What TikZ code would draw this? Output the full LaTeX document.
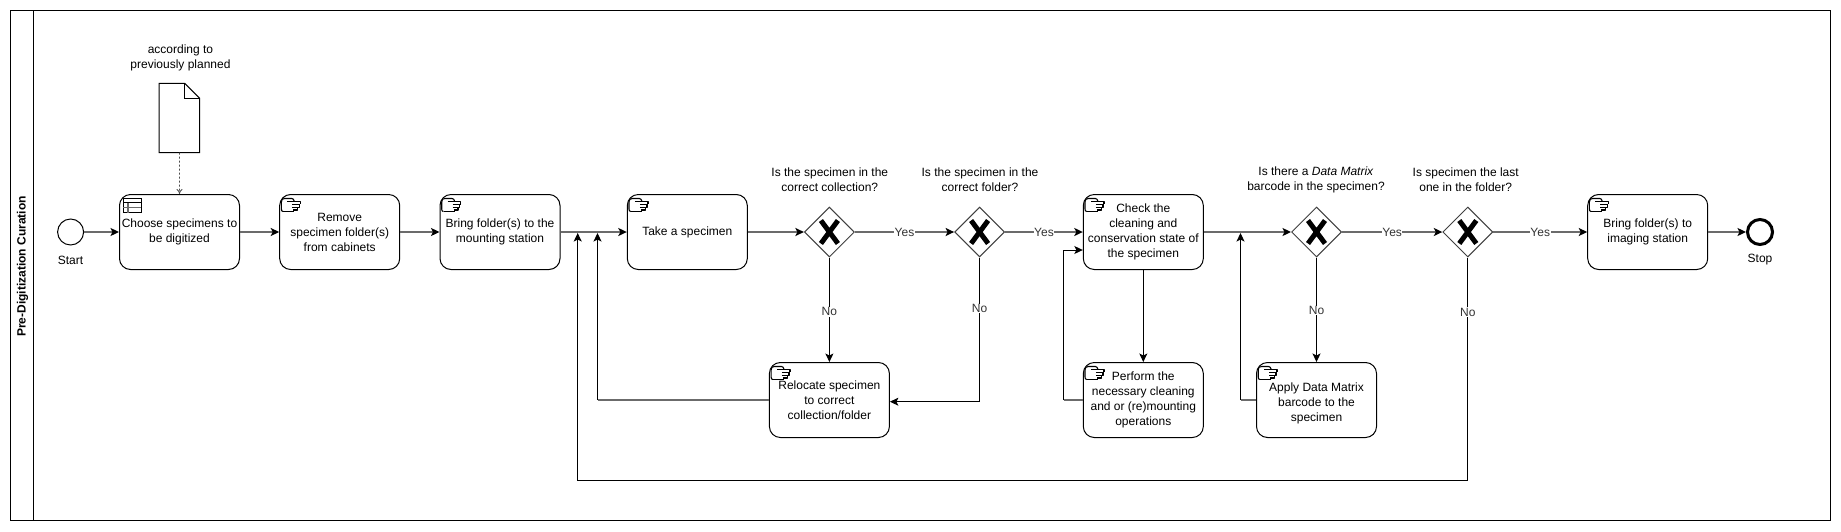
\documentclass[tikz,border=0pt]{standalone}
\usepackage{fontspec}
\setmainfont{Liberation Sans}
\usetikzlibrary{arrows.meta,shapes.geometric}
\definecolor{hgrey}{gray}{0.42}
\newcommand{\handicon}[1]{%
  \begin{scope}[shift={(#1.north west)},line width=1.1pt,line join=round]
    \draw (4,17.5) .. controls (2.6,17.5) and (2.2,16.5) .. (2.2,15) -- (2.2,8) .. controls (2.2,5.5) and (3.2,4.5) .. (5.5,4.5) -- (12.5,4.5) .. controls (14,4.5) and (14.5,5.5) .. (15,7);
    \draw (4,17.5) -- (15,17.5);
    \draw[line width=1.4pt] (8,7.5) -- (21,7.5) -- (21,10);
    \draw[line width=1.4pt] (13,10.5) -- (21,10.5);
    \draw[line width=1.4pt] (13,13.2) -- (20,13.2) -- (20,10.5);
    \draw[line width=1.4pt] (14,16) -- (18.5,16) -- (18.5,13.2);
  \end{scope}}
\newcommand{\tableicon}[1]{%
  \begin{scope}[shift={(#1.north west)},line width=0.9pt]
    \draw (4,4.5) rectangle (22,18.5);
    \draw[line width=1.2pt] (4,8.5) -- (22,8.5);
    \draw[hgrey,line width=1.2pt] (4,13.5) -- (22,13.5);
    \draw[hgrey,line width=1.2pt] (9,8.5) -- (9,18.5);
  \end{scope}}
\newcommand{\xmark}[1]{%
  \draw[line width=5pt] ([shift={(-8.5,-11.5)}]#1.center) -- ([shift={(8.5,11.5)}]#1.center)
    ([shift={(-8.5,11.5)}]#1.center) -- ([shift={(8.5,-11.5)}]#1.center);}
\begin{document}
\begin{tikzpicture}[x=1pt,y=-1pt,
  every node/.style={font=\fontsize{12}{15}\selectfont,align=center,inner sep=0pt},
  taskbox/.style={draw,rounded corners=11pt,minimum width=120pt,minimum height=75pt,line width=1pt,
    execute at begin node={\mbox{}\\[-11.4pt]}},
  gateway/.style={draw,black!75,diamond,aspect=1,minimum width=50pt,minimum height=50pt,line width=1pt},
  startev/.style={draw,circle,minimum size=26pt,line width=1pt},
  stopev/.style={draw,circle,minimum size=25pt,line width=3pt},
  edgelabel/.style={fill=white,inner sep=0.5pt,text=black!80},
  tipped/.style={-{Stealth[length=8.5pt,width=8pt,inset=2pt]}},
  hconn/.style={hgrey,line width=1.7pt,-{Stealth[length=8.5pt,width=8pt,inset=2pt,black]}},
  hplain/.style={hgrey,line width=1.7pt},
  vconn/.style={black,line width=1pt,tipped},
  vplain/.style={black,line width=1pt},
  assoc/.style={black!70,dashed,dash pattern=on 2pt off 2pt,line width=0.8pt,-{To[length=5pt,width=6pt]}}
]
\useasboundingbox (0,0) rectangle (1841,531);
\fill[white] (0,0) rectangle (1841,531);
% pool
\draw[line width=1pt] (10.5,10.5) rectangle (1830,520);
\draw[line width=1pt] (33.5,10.5) -- (33.5,520);
\node[rotate=90,font=\fontsize{12}{15}\selectfont\bfseries] (title) at (22.5,266.5) {Pre-Digitization Curation};
% events
\node[startev] (start) at (70.6,232) {};
\node (startl) at (70.5,260) {Start};
\node[stopev] (stop) at (1760,232) {};
\node (stopl) at (1760,259.5) {Stop};
% tasks
\node[taskbox] (choose) at (179.5,232) {Choose specimens to\\be digitized};
\node[taskbox] (remove) at (339.7,232) {Remove\\specimen folder(s)\\from cabinets};
\node[taskbox] (bring) at (500,232) {Bring folder(s) to the\\mounting station};
\node[taskbox] (take) at (687.3,232) {Take a specimen};
\node[gateway] (g1) at (829.4,232) {};
\node[gateway] (g2) at (979.6,232) {};
\node[taskbox] (check) at (1143.3,232) {Check the\\cleaning and\\conservation state of\\the specimen};
\node[gateway] (g3) at (1316.5,232) {};
\node[gateway] (g4) at (1467.8,232) {};
\node[taskbox] (image) at (1647.7,232) {Bring folder(s) to\\imaging station};
\node[taskbox] (reloc) at (829.4,400) {Relocate specimen\\to correct\\collection/folder};
\node[taskbox] (perform) at (1143.3,400) {Perform the\\necessary cleaning\\and or (re)mounting\\operations};
\node[taskbox] (apply) at (1316.5,400) {\mbox{}\\Apply Data Matrix\\barcode to the\\specimen};
% icons
\tableicon{choose}
\foreach \n in {remove,bring,take,check,image,reloc,perform,apply}{\handicon{\n}}
\xmark{g1}\xmark{g2}\xmark{g3}\xmark{g4}
% document
\node[minimum width=40pt,minimum height=69pt] (doc) at (179.4,118) {};
\draw[line width=1pt,line join=miter] (doc.south west) -- (doc.north west) -- ([xshift=-15pt]doc.north east) -- ([yshift=-15pt]doc.north east) -- (doc.south east) -- cycle;
\draw[line width=1pt] ([xshift=-15pt]doc.north east) -- ([xshift=-15pt,yshift=-15pt]doc.north east) -- ([yshift=-15pt]doc.north east);
\node (docl) at (180.5,57.8) {according to\\previously planned};
\draw[assoc] (doc.south) -- (choose.north);
% questions
\node (q1) at (829.8,179.6) {Is the specimen in the\\correct collection?};
\node (q2) at (980,179.6) {Is the specimen in the\\correct folder?};
\node (q3) at (1316,179.6) {Is there a \textit{Data Matrix}\\barcode in the specimen?};
\node (q4) at (1465.7,179.6) {Is specimen the last\\one in the folder?};
% junctions
\coordinate (j1) at (577.7,233);
\coordinate (j2) at (597.5,233);
\coordinate (j3) at (1240.5,233);
\coordinate (c1) at (597.5,400);
\coordinate (c2) at (1063.7,400);
\coordinate (c3) at (1063.7,250);
\coordinate (c4) at (1240.5,400);
\coordinate (c5) at (1467.8,480.5);
\coordinate (c6) at (577.7,480.5);
% main flow
\draw[hconn] (start) -- (choose);
\draw[hconn] (choose) -- (remove);
\draw[hconn] (remove) -- (bring);
\draw[hconn] (bring) -- (take);
\draw[hconn] (take) -- (g1);
\draw[hconn] (g1) -- node[edgelabel,pos=0.5] (y1) {Yes} (g2);
\draw[hconn] (g2) -- node[edgelabel,pos=0.5] (y2) {Yes} (check);
\draw[hconn] (check) -- (g3);
\draw[hconn] (g3) -- node[edgelabel,pos=0.5] (y3) {Yes} (g4);
\draw[hconn] (g4) -- node[edgelabel,pos=0.5] (y4) {Yes} (image);
\draw[hconn] (image) -- (stop);
% branches
\draw[vconn] (g1) -- node[edgelabel,pos=0.52] (n1) {No} (reloc);
\draw[vconn] (g2.south) -- node[edgelabel,pos=0.355] (n2) {No} (g2.south |- 0,401.7) -- ([yshift=-1.7pt]reloc.east);
\draw[vconn] (check) -- (perform);
\draw[vconn] (g3) -- node[edgelabel,pos=0.51] (n3) {No} (apply);
\draw[hplain] (reloc) -- (c1);
\draw[vconn] (c1) -- (j2);
\draw[hplain] (perform) -- (c2);
\draw[vconn] (c2) -- (c3) -- (c3 -| check.west);
\draw[hplain] (apply) -- (c4);
\draw[vconn] (c4) -- (j3);
\draw[vconn] (g4.south) -- node[edgelabel,pos=0.245] (n4) {No} (c5) -- (c6) -- (j1);
\end{tikzpicture}
\end{document}
